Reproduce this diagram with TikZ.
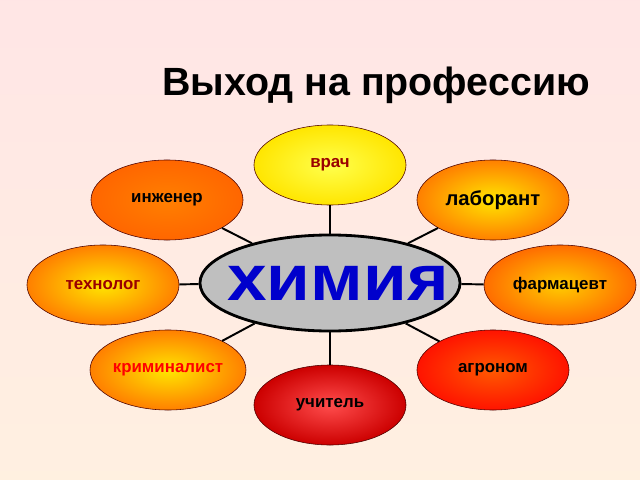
\documentclass[tikz,border=0pt]{standalone}
\usepackage{fontspec}
\setmainfont{Liberation Sans}
\usetikzlibrary{shapes.geometric}
\tikzset{
  prof/.style={ellipse,draw=black!70!red,minimum width=3.8cm,minimum height=2cm,font=\bfseries\large,inner sep=0pt},
  link/.style={line width=1.4pt,black}
}
\begin{document}
\begin{tikzpicture}[x=0.025cm,y=-0.025cm]
\shade[top color=pink!40,bottom color=orange!12] (0,0) rectangle (640,480);
\useasboundingbox (0,0) rectangle (640,480);
\node[font=\bfseries\fontsize{28}{32}\selectfont] (title) at (376,85) {Выход на профессию};

% centre
\node[ellipse,draw=black,line width=2pt,fill=black!25,minimum width=6.5cm,minimum height=2.4cm] (chem) at (330,283) {};
\node[text=blue!80!black,font=\bfseries\fontsize{46}{50}\selectfont,xscale=1.1] (chemtext) at (338,283) {химия};

% professions
\node[prof,shading=radial,inner color=yellow!70,outer color=yellow!80!orange] (vrach) at (330,165) {\textcolor{red!60!black}{врач}};
\node[prof,shading=radial,inner color=orange,outer color=orange!80!red] (inzh) at (167,200) {инженер};
\node[prof,shading=radial,inner color=yellow!80!orange,outer color=orange] (lab) at (493,200) {\Large\bfseries лаборант};
\node[prof,shading=radial,inner color=yellow!80!orange,outer color=orange] (tech) at (103,285) {\textcolor{red!60!black}{технолог}};
\node[prof,shading=radial,inner color=yellow!60!orange,outer color=orange!85!red] (farm) at (560,285) {фармацевт};
\node[prof,shading=radial,inner color=yellow!80!orange,outer color=orange] (krim) at (168,370) {\textcolor{red}{криминалист}};
\node[prof,shading=radial,inner color=orange!70!red,outer color=red!85!orange] (agro) at (493,370) {агроном};
\node[prof,shading=radial,inner color=red!70,outer color=red!80!black] (uch) at (330,405) {учитель};

\foreach \p in {vrach,inzh,lab,tech,farm,krim,agro,uch}
  \draw[link] (chem) -- (\p);
\end{tikzpicture}
\end{document}
